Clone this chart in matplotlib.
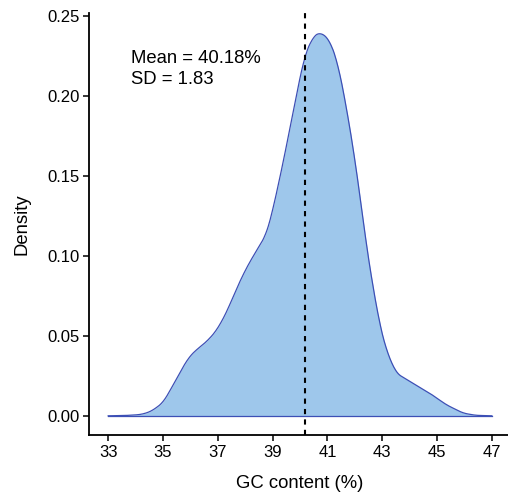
import numpy as np
import matplotlib.pyplot as plt

plt.rcParams.update({
    "font.family": ["Liberation Sans", "DejaVu Sans"],
    "axes.labelsize": 13.3,
    "xtick.labelsize": 12,
    "ytick.labelsize": 12,
})

# density curve of GC content
gc = [33.0, 33.65, 34.2, 34.56, 34.99, 35.3, 35.6, 35.96, 36.3, 36.57, 36.94,
      37.30, 37.67, 38.03, 38.40, 38.76, 38.95, 39.25, 39.55, 39.86, 40.16,
      40.47, 40.74, 41.08, 41.38, 41.69, 41.99, 42.24, 42.42, 42.66, 42.90,
      43.15, 43.51, 44.12, 44.73, 45.34, 45.95, 46.4, 47.0]
dens = [0.0, 0.0002, 0.0008, 0.0027, 0.008, 0.017, 0.0267, 0.037, 0.0425, 0.046, 0.053,
        0.064, 0.079, 0.092, 0.103, 0.113, 0.1246, 0.1475, 0.1725, 0.1996, 0.2246,
        0.237, 0.240, 0.235, 0.2204, 0.1933, 0.162, 0.1308, 0.107, 0.081, 0.058,
        0.041, 0.0267, 0.0204, 0.0142, 0.0069, 0.0017, 0.0003, 0.0]

gc_mean = 40.18
gc_sd = 1.83

# smooth the read points a bit
xs = np.linspace(33, 47, 600)
ys = np.interp(xs, gc, dens)
k = np.ones(15) / 15
ys = np.convolve(np.pad(ys, 7, mode="edge"), k, mode="valid")
ys[0] = 0
ys[-1] = 0

fig = plt.figure(figsize=(5.08, 4.96), dpi=100)
ax = fig.add_axes([89 / 508, 1 - 435 / 496, 422 / 508, (435 - 12.8) / 496])

ax.fill_between(xs, ys, 0, color="#9ec7eb", linewidth=0)
ax.plot(xs, ys, color="#3c4fb5", linewidth=0.9)
ax.plot([33, 47], [0, 0], color="#3c4fb5", linewidth=0.9)
ax.axvline(gc_mean, color="black", linestyle=(0, (2.5, 2.5)), linewidth=1.5)

ax.text(33.83, 0.2285, f"Mean = {gc_mean:.2f}%\nSD = {gc_sd:.2f}",
        fontsize=13.3, va="top", ha="left", linespacing=1.25)

ax.set_xlim(32.3, 47.7)
ax.set_ylim(-0.012, 0.252)
ax.set_xticks(range(33, 48, 2))
ax.set_yticks([0, 0.05, 0.10, 0.15, 0.20, 0.25])
ax.set_yticklabels(["0.00", "0.05", "0.10", "0.15", "0.20", "0.25"])
ax.set_xlabel("GC content (%)", labelpad=11)
ax.set_ylabel("Density", labelpad=12)

for s in ["top", "right"]:
    ax.spines[s].set_visible(False)
for s in ["left", "bottom"]:
    ax.spines[s].set_linewidth(1.3)
ax.tick_params(length=4, width=1.1, pad=3, colors="black")

fig.savefig("out.png", dpi=100)
